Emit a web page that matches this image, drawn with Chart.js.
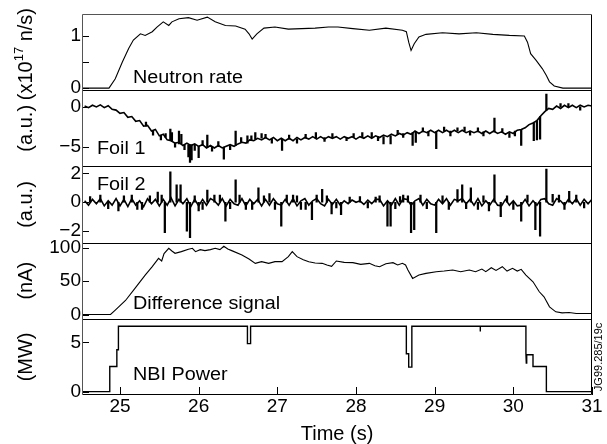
<!DOCTYPE html>
<html><head><meta charset="utf-8">
<script src="https://cdn.jsdelivr.net/npm/chart.js@4/dist/chart.umd.min.js"></script>
<style>html,body{margin:0;padding:0;background:#fff}#wrap{width:607px;height:444px}</style>
</head><body><div id="wrap"><canvas id="c" width="607" height="444"></canvas></div>
<script>
// ---------------- data ----------------
const neutronTime = [24.52,24.86,24.94,25.03,25.11,25.17,25.26,25.32,25.41,25.47,25.55,25.62,25.66,25.75,25.87,25.98,26.11,26.21,26.34,26.47,26.59,26.64,26.68,26.74,26.83,26.97,27.14,27.31,27.48,27.65,27.77,27.96,28.17,28.38,28.59,28.64,28.67,28.70,28.74,28.80,28.89,29.10,29.31,29.53,29.74,29.95,30.14,30.18,30.22,30.29,30.37,30.42,30.46,30.52,30.63,31.0];
const neutronRate = [0,0,0.18,0.5,0.76,0.92,1.04,1.01,1.08,1.17,1.27,1.2,1.27,1.33,1.35,1.3,1.36,1.27,1.2,1.19,1.13,1.04,0.94,1.04,1.15,1.17,1.13,1.14,1.15,1.17,1.17,1.14,1.11,1.15,1.11,1.08,0.88,0.72,0.85,0.98,1.03,1.06,1.04,1.06,1.03,1.01,1.0,0.88,0.66,0.53,0.37,0.24,0.12,0.04,0,0];

const foilTime = [24.55,24.60,24.65,24.70,24.75,24.80,24.85,24.90,24.95,25.00,
25.05,25.10,25.15,25.20,25.25,25.30,25.35,25.40,25.45,25.50,
25.55,25.60,25.65,25.70,25.75,25.80,25.85,25.90,25.95,26.00,
26.05,26.10,26.15,26.20,26.25,26.30,26.35,26.40,26.45,26.50,
26.55,26.60,26.65,26.70,26.75,26.80,26.85,26.90,26.95,27.00,
27.05,27.10,27.15,27.20,27.25,27.30,27.35,27.40,27.45,27.50,
27.55,27.60,27.65,27.70,27.75,27.80,27.85,27.90,27.95,28.00,
28.05,28.10,28.15,28.20,28.25,28.30,28.35,28.40,28.45,28.50,
28.55,28.60,28.65,28.70,28.75,28.80,28.85,28.90,28.95,29.00,
29.05,29.10,29.15,29.20,29.25,29.30,29.35,29.40,29.45,29.50,
29.55,29.60,29.65,29.70,29.75,29.80,29.85,29.90,29.95,30.00,
30.05,30.10,30.15,30.20,30.25,30.30,30.35,30.40,30.45,30.50,
30.55,30.60,30.65,30.70,30.75,30.80,30.85,30.90,30.95,31.00];
const foil1Signal = [0.1,-0.1,0.2,0.0,0.25,-0.1,0.15,-0.3,-0.4,-0.8,
-0.7,-1.3,-1.2,-1.8,-1.7,-2.4,-2.3,-3.0,-2.8,-3.6,
-3.4,-4.1,-4.2,-4.5,-4.4,-4.8,-4.5,-4.8,-4.6,-4.9,
-4.7,-5.1,-4.8,-5.1,-4.8,-5.1,-4.9,-4.7,-4.9,-4.6,
-4.4,-4.5,-4.1,-4.2,-3.9,-4.1,-3.8,-4.1,-3.8,-4.2,
-3.9,-4.2,-3.9,-4.2,-3.8,-4.1,-3.8,-4.0,-3.7,-4.0,
-3.7,-4.0,-3.7,-3.9,-3.7,-4.0,-3.7,-3.9,-3.7,-4.0,
-3.7,-3.9,-3.6,-3.9,-3.6,-3.8,-3.5,-3.7,-3.4,-3.6,
-3.3,-3.5,-3.2,-3.4,-3.0,-3.3,-3.0,-3.2,-2.9,-3.2,
-2.9,-3.2,-2.9,-3.2,-2.9,-3.2,-2.9,-3.2,-3.0,-3.2,
-3.0,-3.3,-3.0,-3.3,-3.0,-3.3,-3.1,-3.4,-3.1,-3.3,
-2.9,-2.8,-2.6,-2.2,-2.0,-1.7,-1.1,-0.6,-0.2,-0.3,
0.1,-0.2,0.2,-0.1,0.2,-0.1,0.2,0.0,0.2,0.1];
const foil2Signal = [0.1,-0.2,0.2,-0.1,0.25,-0.25,0.1,-0.2,0.25,-0.25,
0.2,-0.3,0.25,-0.2,0.1,-0.3,0.25,-0.1,0.2,-0.25,
0.2,-0.2,0.3,-0.25,0.2,-0.1,0.25,-0.3,0.2,-0.25,
0.2,-0.2,0.25,0.1,-0.2,0.25,-0.25,0.2,-0.1,-0.2,
0.25,-0.25,0.2,-0.1,0.2,-0.25,0.2,-0.2,0.25,-0.1,
-0.2,0.2,-0.2,0.25,-0.25,0.1,0.25,-0.2,0.1,0.25,
-0.1,-0.25,0.2,-0.15,0.2,-0.2,0.1,-0.1,0.15,0.0,
0.1,-0.15,0.15,-0.1,0.2,0.2,-0.25,0.1,-0.2,0.25,
-0.2,0.25,0.2,-0.2,0.1,0.25,-0.2,0.2,-0.1,-0.2,
0.2,-0.1,0.25,-0.2,0.2,0.1,0.25,-0.1,0.2,-0.2,
0.25,-0.25,0.1,-0.2,0.2,-0.2,-0.25,0.2,-0.2,0.1,
-0.25,-0.2,0.2,-0.25,0.1,-0.2,0.2,0.25,-0.1,-0.2,
0.25,0.1,-0.2,0.2,-0.1,0.25,-0.2,0.2,-0.1,0.2];

// vertical spikes: time, start value, tip value
const foil1SpikeTime = [25.64,25.66,25.75,25.78,25.87,25.89,25.91,26.00,26.11,26.32,26.47,26.62,26.72,26.80,27.06,27.49,28.08,28.35,28.44,28.72,28.76,29.02,29.29,29.76,30.10,30.26,30.30,30.34,30.42,
25.33,25.42,25.52,25.58,25.70,25.82,25.95,26.05,26.17,26.25,26.40,26.54,26.67,26.85,26.93,27.15,27.25,27.36,27.60,27.70,27.88,27.97,28.20,28.28,28.53,28.60,28.85,28.92,29.12,29.20,29.38,29.45,29.55,29.62,29.86,29.95,30.02,30.60,30.70,30.85];
const foil1SpikeFrom = [-4.2,-4.3,-4.6,-4.6,-4.7,-4.7,-4.7,-4.9,-5.0,-5.0,-4.8,-4.5,-4.0,-3.9,-4.0,-3.9,-3.8,-3.7,-3.6,-3.2,-3.1,-3.1,-3.0,-3.1,-2.8,-2.0,-1.7,-1.2,-0.4,
-2.4,-2.9,-3.5,-3.8,-4.5,-4.7,-4.7,-4.8,-4.9,-4.9,-4.8,-4.4,-4.1,-3.9,-4.0,-4.0,-4.0,-3.9,-3.8,-3.8,-3.8,-3.8,-3.7,-3.7,-3.4,-3.3,-3.1,-3.1,-3.0,-3.0,-3.0,-3.0,-3.1,-3.1,-3.2,-3.2,-3.0,0.0,0.0,0.0];
const foil1SpikeTo = [-2.75,-3.2,-3.0,-3.4,-6.2,-6.9,-6.6,-6.3,-3.5,-6.5,-3.0,-3.6,-3.2,-3.3,-5.4,-3.2,-3.2,-4.6,-4.6,-4.8,-4.4,-5.2,-2.6,-1.4,-4.8,-4.2,-4.1,-4.0,1.6,
-1.9,-3.5,-4.1,-3.3,-5.0,-5.3,-5.4,-4.2,-5.5,-4.3,-5.3,-3.8,-3.6,-3.4,-4.5,-3.5,-4.5,-3.4,-4.3,-3.3,-4.2,-3.3,-3.2,-4.2,-2.9,-3.8,-2.6,-3.6,-2.5,-3.6,-2.5,-3.5,-2.6,-3.6,-2.7,-3.8,-3.6,0.4,0.4,-0.4];

const foil2SpikeTime = [24.75,24.98,25.15,25.28,25.48,25.57,25.64,25.72,25.77,25.85,25.89,26.00,26.11,26.20,26.34,26.47,26.60,26.76,26.90,27.05,27.20,27.30,27.44,27.57,27.69,27.81,28.05,28.30,28.40,28.44,28.56,28.66,28.70,28.74,29.02,29.29,29.35,29.46,29.69,29.76,29.84,30.10,30.28,30.34,30.42,30.58,30.71,
24.62,24.85,25.05,25.22,25.38,25.53,25.95,26.05,26.27,26.40,26.52,26.68,26.83,26.97,27.12,27.25,27.36,27.50,27.63,27.75,27.92,28.15,28.25,28.50,28.60,28.82,28.90,29.10,29.18,29.40,29.55,29.62,29.92,30.00,30.18,30.50,30.65,30.80,30.90];
const foil2SpikeTo = [0.5,-0.6,0.5,-0.5,0.7,-2.1,2.1,1.2,1.2,-2.0,-2.45,-0.6,0.85,0.5,-1.3,1.55,-0.5,1.0,0.6,-1.65,0.5,-0.5,-1.2,0.9,-0.8,-0.85,0.4,0.45,-1.65,-1.65,0.4,0.45,-2.1,-1.9,-2.1,0.87,1.2,1.0,-0.6,1.9,-1.0,-1.3,-1.9,-2.35,2.3,0.5,0.75,
0.4,-0.45,0.45,-0.5,0.45,0.5,0.45,-0.5,0.5,-0.45,0.5,-0.5,0.45,-0.5,0.5,0.45,-0.5,0.5,0.45,-0.4,0.35,-0.4,0.35,-0.45,0.5,0.5,-0.45,0.45,-0.5,-0.45,-0.5,0.45,0.45,-0.5,0.5,0.55,-0.5,0.5,-0.4];

const diffTime = [24.52,24.88,24.94,25.07,25.19,25.32,25.41,25.49,25.53,25.56,25.62,25.66,25.70,25.78,25.87,25.92,25.96,26.02,26.08,26.15,26.21,26.27,26.32,26.37,26.42,26.55,26.64,26.72,26.80,26.89,26.97,27.06,27.14,27.19,27.25,27.33,27.40,27.48,27.57,27.63,27.69,27.75,27.85,27.96,28.06,28.17,28.24,28.30,28.38,28.47,28.53,28.59,28.63,28.66,28.72,28.80,28.89,29.02,29.12,29.23,29.33,29.44,29.52,29.60,29.65,29.72,29.78,29.86,29.92,29.99,30.05,30.10,30.16,30.25,30.33,30.39,30.46,30.54,30.62,30.71,30.80,30.90,31.0];
const diffSignal = [0,0,6.5,21,39,59,71.5,84,80,91,99,95,91.5,94,97.5,99,94,97,95.5,97,99,97,102,98,95.5,89,83,76.5,79,76.5,79,79,86.5,94,86.5,82,79,77,76.5,74,72,80,78,77.5,75,76.5,73,71.5,76,77.5,74,76.5,74,66.5,54,59,61.5,64,65,66.5,64,66.5,64,68,64,70,66,71.5,65,69,65,67.5,59,49,34,26.5,11.5,4,2.5,3,1.5,1.5,1.5];

const nbiTime = [24.52,24.87,24.87,24.96,24.96,24.98,24.98,26.62,26.62,26.66,26.66,28.64,28.64,28.67,28.67,28.71,28.71,29.58,29.58,29.58,30.16,30.16,30.165,30.17,30.25,30.25,30.42,30.42,31.0];
const nbiPower = [0,0,2.55,2.55,4.25,4.25,6.63,6.63,4.87,4.87,6.63,6.63,3.85,3.85,2.49,2.49,6.63,6.63,6.1,6.63,6.63,3.9,2.9,3.75,3.75,2.55,2.55,0,0];

const xTicks = [25,26,27,28,29,30,31];
const neutronTicks = [0,0.5,1];      const neutronTickLabels = ['0','','1'];
const foil1Ticks = [-5,0];           const foil1TickLabels = ['\u22125','0'];
const foil2Ticks = [-2,0,2];         const foil2TickLabels = ['\u22122','0','2'];
const diffTicks = [0,50,100];        const diffTickLabels = ['0','50','100'];
const nbiTicks = [0,5];              const nbiTickLabels = ['0','5'];

const panelNames = ['Neutron rate','Foil 1','Foil 2','Difference signal','NBI Power'];
const axisTitles = ['','(a.u.)','(a.u.)','(nA)','(MW)'];

// ---------------- chart ----------------
const FONT = "'Liberation Sans', Arial, Helvetica, sans-serif";
const pts = (t, v) => t.map((x, i) => ({x: x, y: v[i]}));
const spikes = (t, a, b) => t.map((x, i) => ({x: x, y: [a[i], b[i]]}));
const ids = ['yN','yF1','yF2','yD','yP'];

function yScale(idx, min, max, tickVals, tickLabels) {
  return {
    type: 'linear', position: 'left', stack: 'panels', stackWeight: 1, weight: 10 - idx,
    min: min, max: max,
    afterBuildTicks: s => { s.ticks = tickVals.map(v => ({value: v})); },
    afterFit: s => { s.width = 82; },
    grid: {display: false, drawTicks: false}, border: {display: false},
    ticks: {
      color: '#000', font: {family: FONT, size: 19}, padding: 1, autoSkip: false,
      callback: (val) => { const k = tickVals.indexOf(val); return k >= 0 ? tickLabels[k] : ''; }
    },
    title: {display: axisTitles[idx] !== '', text: axisTitles[idx], color: '#000',
      font: {family: FONT, size: 20}, padding: {top: 14, bottom: 0}}
  };
}

const framePlugin = {
  id: 'frame',
  afterDraw(chart) {
    const ctx = chart.ctx, a = chart.chartArea;
    ctx.save();
    ctx.strokeStyle = '#000'; ctx.lineWidth = 1;
    ids.forEach(id => {
      const s = chart.scales[id];
      s.ticks.forEach(t => {
        const y = Math.round(s.getPixelForValue(t.value)) + 0.5;
        ctx.beginPath(); ctx.moveTo(a.left, y); ctx.lineTo(a.left + 7, y); ctx.stroke();
      });
    });
    const xs = chart.scales.x;
    xs.ticks.forEach(t => {
      const x = Math.round(xs.getPixelForValue(t.value)) + 0.5;
      ctx.beginPath(); ctx.moveTo(x, a.bottom); ctx.lineTo(x, a.bottom - 8); ctx.stroke();
    });
    ids.slice(1).forEach(id => {
      const y = Math.round(chart.scales[id].top) + 0.5;
      ctx.beginPath(); ctx.moveTo(a.left, y); ctx.lineTo(a.right, y); ctx.stroke();
    });
    const L = Math.round(a.left) + 0.5, R = Math.round(a.right) - 0.5, T = Math.round(a.top) + 0.5, B = Math.round(a.bottom) - 0.5;
    ctx.strokeStyle = '#000';
    ctx.beginPath(); ctx.moveTo(R, T); ctx.lineTo(R, B); ctx.lineTo(L, B); ctx.stroke();
    ctx.strokeStyle = '#555';
    ctx.beginPath(); ctx.moveTo(L, B); ctx.lineTo(L, T); ctx.lineTo(R, T); ctx.stroke();

    ctx.fillStyle = '#000';
    ctx.font = '18px ' + FONT;
    ctx.textAlign = 'left'; ctx.textBaseline = 'alphabetic';
    const lab = (text, x, y) => { ctx.save(); ctx.translate(x, y); ctx.scale(1.1, 1); ctx.fillText(text, 0, 0); ctx.restore(); };
    const sN = chart.scales.yN, s1 = chart.scales.yF1, s2 = chart.scales.yF2, sD = chart.scales.yD, sP = chart.scales.yP;
    lab(panelNames[0], a.left + 51, sN.bottom - 7);
    lab(panelNames[1], a.left + 15, s1.bottom - 12.5);
    lab(panelNames[2], a.left + 15, s2.top + 24);
    lab(panelNames[3], a.left + 51, sD.bottom - 9.5);
    lab(panelNames[4], a.left + 51, sP.bottom - 15);

    ctx.save();
    ctx.translate(26, (sN.top + sN.bottom) / 2 + 2);
    ctx.rotate(-Math.PI / 2);
    ctx.textBaseline = 'middle'; ctx.textAlign = 'left';
    const big = '20px ' + FONT, small = '13px ' + FONT;
    const p1 = '(x10', p2 = '17', p3 = ' n/s)';
    ctx.font = big; const w1 = ctx.measureText(p1).width, w3 = ctx.measureText(p3).width;
    ctx.font = small; const w2 = ctx.measureText(p2).width;
    const x0 = -(w1 + w2 + w3) / 2;
    ctx.font = big; ctx.fillText(p1, x0, 0);
    ctx.font = small; ctx.fillText(p2, x0 + w1, -7);
    ctx.font = big; ctx.fillText(p3, x0 + w1 + w2, 0);
    ctx.restore();

    ctx.save();
    ctx.translate(599, (sP.top + sP.bottom) / 2);
    ctx.rotate(-Math.PI / 2);
    ctx.font = '11px ' + FONT; ctx.textAlign = 'center'; ctx.textBaseline = 'middle';
    ctx.fillText('JG99.285/19c', 0, 0);
    ctx.restore();
    ctx.restore();
  }
};

const ds = (label, t, v, axis, w) => ({
  type: 'line', label: label, data: pts(t, v), yAxisID: axis, borderColor: '#000', borderWidth: w,
  pointRadius: 0, tension: 0, fill: false
});
const spikeSet = (label, data, axis) => ({
  type: 'bar', label: label, data: data, yAxisID: axis, backgroundColor: '#000',
  borderWidth: 0, barThickness: 1.6, grouped: false
});

new Chart(document.getElementById('c'), {
  type: 'line',
  data: {
    datasets: [
      ds(panelNames[0], neutronTime, neutronRate, 'yN', 1.1),
      ds(panelNames[1], foilTime, foil1Signal, 'yF1', 1.6),
      spikeSet(panelNames[1] + ' spikes', spikes(foil1SpikeTime, foil1SpikeFrom, foil1SpikeTo), 'yF1'),
      ds(panelNames[2], foilTime, foil2Signal, 'yF2', 1.6),
      spikeSet(panelNames[2] + ' spikes', spikes(foil2SpikeTime, foil2SpikeTime.map(() => 0), foil2SpikeTo), 'yF2'),
      ds(panelNames[3], diffTime, diffSignal, 'yD', 1.1),
      ds(panelNames[4], nbiTime, nbiPower, 'yP', 1.4)
    ]
  },
  options: {
    responsive: false, animation: false, devicePixelRatio: 1,
    layout: {padding: {left: 0, right: 15, top: 14, bottom: 0}},
    plugins: {legend: {display: false}, tooltip: {enabled: false}},
    scales: {
      x: {
        type: 'linear', position: 'bottom', min: 24.517, max: 31, offset: false,
        afterBuildTicks: s => { s.ticks = xTicks.map(v => ({value: v})); },
        afterFit: s => { s.height = 49; },
        grid: {display: false, drawTicks: false, offset: false}, border: {display: false},
        ticks: {color: '#000', font: {family: FONT, size: 19}, padding: 0, autoSkip: false, maxRotation: 0},
        title: {display: true, text: 'Time (s)', color: '#000', font: {family: FONT, size: 20, lineHeight: 1}, padding: {top: 0, bottom: 0}}
      },
      yN: yScale(0, -0.04, 1.42, neutronTicks, neutronTickLabels),
      yF1: yScale(1, -7.39, 2.07, foil1Ticks, foil1TickLabels),
      yF2: yScale(2, -2.79, 2.48, foil2Ticks, foil2TickLabels),
      yD: yScale(3, -6.4, 107.5, diffTicks, diffTickLabels),
      yP: yScale(4, -0.34, 7.39, nbiTicks, nbiTickLabels)
    }
  },
  plugins: [framePlugin]
});
</script>
</body></html>
